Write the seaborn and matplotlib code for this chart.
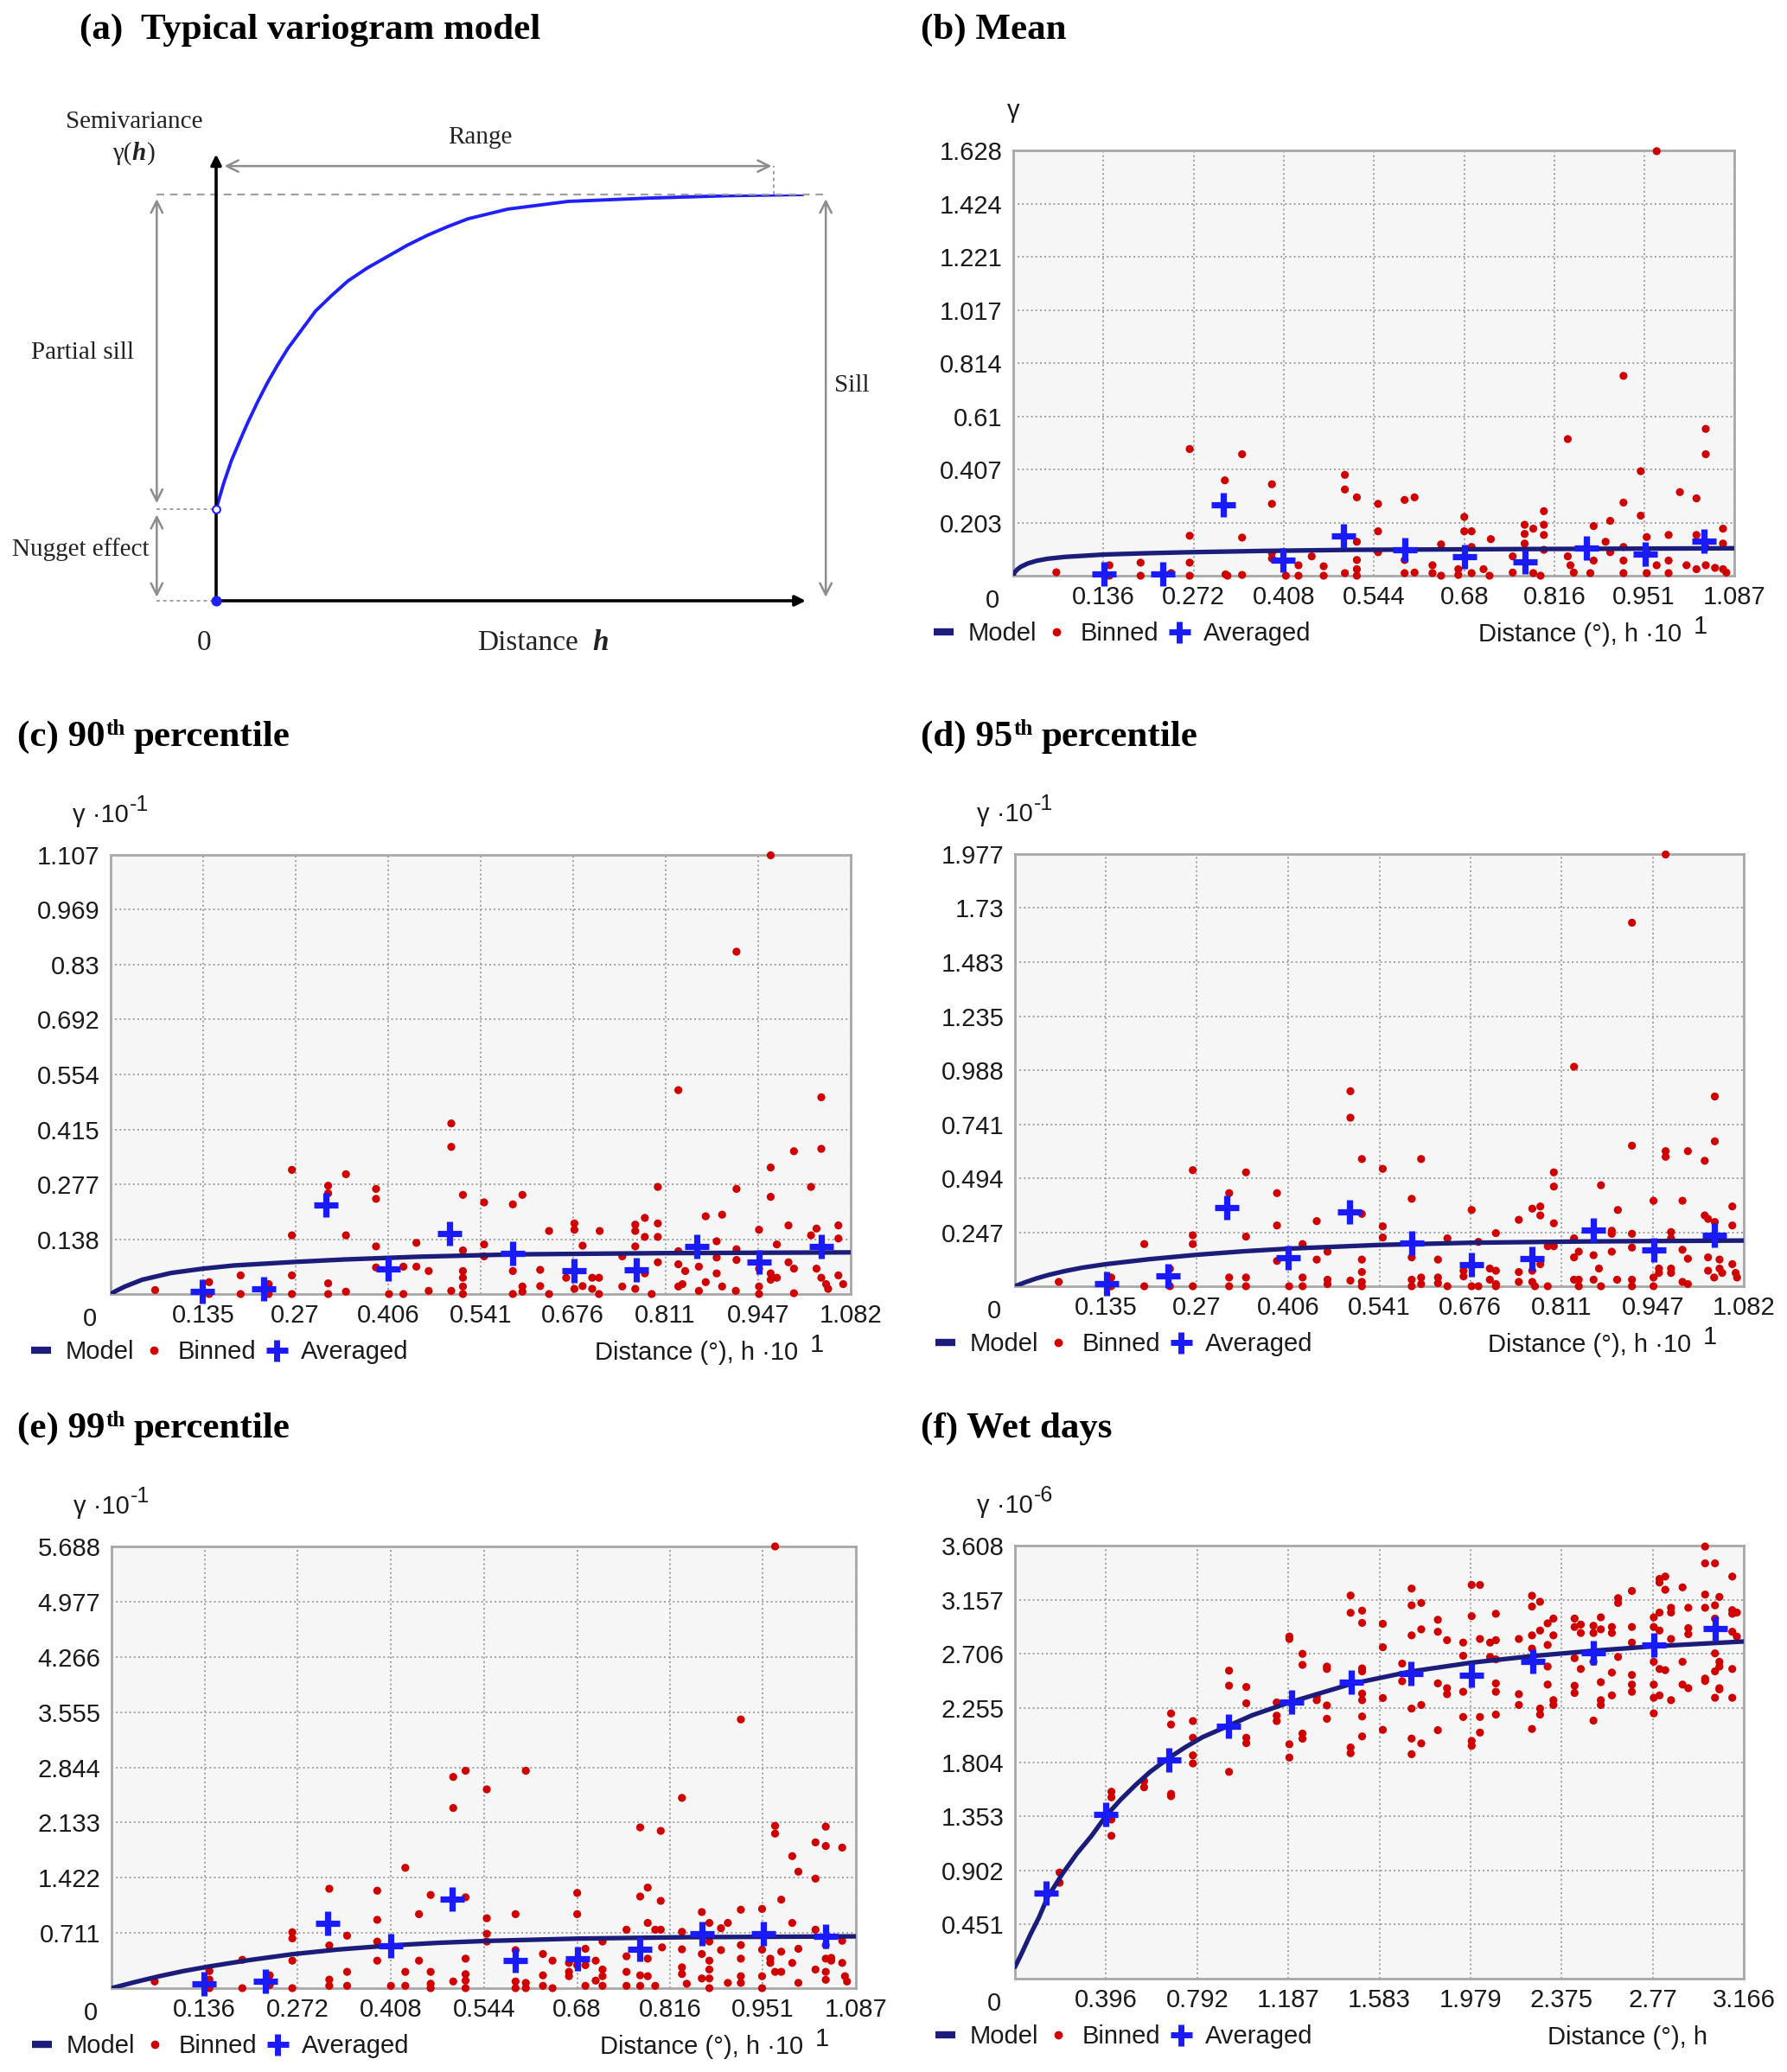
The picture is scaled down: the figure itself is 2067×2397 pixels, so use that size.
import numpy as np
import pandas as pd
import matplotlib
matplotlib.use("Agg")
import matplotlib.pyplot as plt
from matplotlib.lines import Line2D
import seaborn as sns

# ---------------- data ----------------
# (a) schematic: normalised distance h and semivariance (sill = 1)
schema_h = [0.0, 0.013, 0.026, 0.040, 0.053, 0.070, 0.087, 0.104, 0.122, 0.146, 0.169, 0.197, 0.224, 0.257,
            0.291, 0.325, 0.360, 0.394, 0.428, 0.496, 0.599, 0.734, 0.870, 1.0]
schema_gamma = [0.226, 0.290, 0.345, 0.393, 0.436, 0.488, 0.536, 0.579, 0.621, 0.668, 0.713, 0.752, 0.787, 0.819,
                0.847, 0.875, 0.900, 0.921, 0.940, 0.964, 0.983, 0.991, 0.997, 1.0]
nugget = 0.226

# (b) Mean
mean_xticks = ["0.136", "0.272", "0.408", "0.544", "0.68", "0.816", "0.951", "1.087"]
mean_yticks = ["0.203", "0.407", "0.61", "0.814", "1.017", "1.221", "1.424", "1.628"]
mean_binned = [
    (0.065, 0.013), (0.145, 0.040), (0.145, 0.000), (0.192, 0.050), (0.192, 0.000), (0.238, 0.010),
    (0.266, 0.485), (0.266, 0.153), (0.266, 0.050), (0.266, 0.000),
    (0.319, 0.365), (0.320, 0.005), (0.323, 0.000),
    (0.345, 0.465), (0.345, 0.146), (0.345, 0.003),
    (0.390, 0.350), (0.390, 0.275), (0.390, 0.087), (0.390, 0.066),
    (0.411, 0.000), (0.430, 0.040), (0.430, 0.000), (0.450, 0.074), (0.468, 0.036), (0.468, 0.000),
    (0.500, 0.386), (0.500, 0.330), (0.500, 0.010),
    (0.518, 0.300), (0.518, 0.130), (0.518, 0.060), (0.518, 0.025), (0.518, 0.000),
    (0.550, 0.275), (0.550, 0.170), (0.550, 0.090),
    (0.590, 0.290), (0.605, 0.300), (0.590, 0.060), (0.590, 0.010), (0.605, 0.012),
    (0.632, 0.040), (0.632, 0.010), (0.645, 0.000), (0.645, 0.120),
    (0.671, 0.025), (0.671, 0.003), (0.680, 0.225), (0.680, 0.170), (0.691, 0.170), (0.691, 0.110),
    (0.691, 0.010), (0.709, 0.025), (0.718, 0.000), (0.720, 0.140),
    (0.753, 0.074), (0.753, 0.012), (0.771, 0.195), (0.771, 0.160), (0.771, 0.123),
    (0.784, 0.180), (0.784, 0.010), (0.795, 0.000),
    (0.800, 0.247), (0.800, 0.195), (0.800, 0.156), (0.800, 0.099),
    (0.836, 0.523), (0.836, 0.074), (0.840, 0.040), (0.845, 0.012),
    (0.875, 0.190), (0.875, 0.058), (0.870, 0.010),
    (0.900, 0.210), (0.893, 0.130), (0.900, 0.090),
    (0.920, 0.765), (0.920, 0.280), (0.920, 0.110), (0.920, 0.058), (0.920, 0.010),
    (0.946, 0.400), (0.946, 0.230), (0.955, 0.148), (0.955, 0.099), (0.955, 0.010),
    (0.970, 1.625), (0.970, 0.040), (0.988, 0.156), (0.988, 0.058), (0.988, 0.010),
    (1.005, 0.320), (1.030, 0.296), (1.030, 0.156), (1.030, 0.025),
    (1.044, 0.562), (1.044, 0.465), (1.044, 0.107), (1.044, 0.040),
    (1.070, 0.180), (1.070, 0.123), (1.070, 0.025), (1.075, 0.012), (1.058, 0.030), (1.015, 0.040),
]
mean_averaged = [(0.137, 0.008), (0.225, 0.008), (0.317, 0.270), (0.407, 0.058), (0.498, 0.153),
                 (0.591, 0.099), (0.681, 0.074), (0.772, 0.054), (0.864, 0.107), (0.953, 0.082), (1.042, 0.131)]
mean_model = [(0.0, 0.0), (0.002, 0.012), (0.006, 0.024), (0.012, 0.035), (0.022, 0.047), (0.035, 0.057),
              (0.052, 0.065), (0.078, 0.072), (0.137, 0.081), (0.200, 0.086), (0.268, 0.090), (0.380, 0.095),
              (0.511, 0.099), (0.771, 0.102), (1.087, 0.105)]

# (c) 90th percentile
p90_xticks = ["0.135", "0.27", "0.406", "0.541", "0.676", "0.811", "0.947", "1.082"]
p90_yticks = ["0.138", "0.277", "0.415", "0.554", "0.692", "0.83", "0.969", "1.107"]
p90_binned = [
    (0.065, 0.010), (0.144, 0.030), (0.144, 0.000), (0.190, 0.047), (0.190, 0.000), (0.231, 0.025), (0.231, 0.000),
    (0.265, 0.313), (0.265, 0.148), (0.265, 0.047), (0.265, 0.000),
    (0.318, 0.273), (0.318, 0.254), (0.318, 0.027), (0.318, 0.000),
    (0.344, 0.302), (0.344, 0.148), (0.344, 0.006),
    (0.388, 0.265), (0.388, 0.240), (0.388, 0.120), (0.388, 0.067),
    (0.407, 0.000), (0.428, 0.069), (0.428, 0.000), (0.447, 0.129), (0.447, 0.069), (0.465, 0.058), (0.465, 0.008),
    (0.498, 0.430), (0.498, 0.371), (0.498, 0.008),
    (0.515, 0.250), (0.515, 0.110), (0.515, 0.058), (0.515, 0.041), (0.515, 0.019), (0.515, 0.000),
    (0.546, 0.231), (0.546, 0.125), (0.546, 0.095),
    (0.588, 0.226), (0.602, 0.250), (0.588, 0.058), (0.588, 0.000), (0.602, 0.019), (0.602, 0.006),
    (0.628, 0.061), (0.628, 0.020), (0.641, 0.000), (0.641, 0.159),
    (0.666, 0.041), (0.678, 0.178), (0.678, 0.162), (0.678, 0.013), (0.690, 0.122), (0.690, 0.020),
    (0.704, 0.041), (0.714, 0.041), (0.714, 0.000), (0.704, 0.013), (0.715, 0.159),
    (0.748, 0.095), (0.748, 0.019), (0.767, 0.175), (0.767, 0.159), (0.767, 0.120), (0.767, 0.013),
    (0.781, 0.192), (0.781, 0.144), (0.781, 0.052), (0.791, 0.000),
    (0.800, 0.270), (0.800, 0.178), (0.800, 0.144), (0.800, 0.080),
    (0.830, 0.514), (0.830, 0.108), (0.830, 0.075), (0.830, 0.019), (0.836, 0.025), (0.840, 0.058),
    (0.870, 0.196), (0.860, 0.069), (0.860, 0.008), (0.870, 0.030),
    (0.886, 0.133), (0.886, 0.092), (0.886, 0.052), (0.894, 0.200), (0.894, 0.019), (0.914, 0.008),
    (0.915, 0.863), (0.915, 0.265), (0.915, 0.113), (0.915, 0.086),
    (0.948, 0.162), (0.948, 0.064), (0.948, 0.019), (0.948, 0.000),
    (0.965, 1.106), (0.965, 0.319), (0.965, 0.245), (0.965, 0.052), (0.965, 0.036),
    (0.974, 0.125), (0.974, 0.041), (0.991, 0.173), (0.991, 0.080), (0.999, 0.064), (0.999, 0.002),
    (0.999, 0.360), (1.024, 0.270), (1.024, 0.148), (1.032, 0.165), (1.032, 0.064),
    (1.039, 0.496), (1.039, 0.366), (1.039, 0.041), (1.046, 0.025), (1.049, 0.013),
    (1.064, 0.173), (1.064, 0.140), (1.064, 0.047), (1.071, 0.025),
]
p90_averaged = [(0.134, 0.006), (0.224, 0.013), (0.315, 0.224), (0.406, 0.064), (0.496, 0.153), (0.588, 0.103),
                (0.678, 0.058), (0.769, 0.061), (0.857, 0.120), (0.948, 0.080), (1.039, 0.120)]
p90_model = [(0.0, 0.0), (0.008, 0.008), (0.021, 0.019), (0.046, 0.036), (0.088, 0.053), (0.135, 0.064),
             (0.180, 0.072), (0.270, 0.081), (0.340, 0.087), (0.450, 0.094), (0.592, 0.100), (0.800, 0.103),
             (1.082, 0.105)]

# (d) 95th percentile
p95_xticks = ["0.135", "0.27", "0.406", "0.541", "0.676", "0.811", "0.947", "1.082"]
p95_yticks = ["0.247", "0.494", "0.741", "0.988", "1.235", "1.483", "1.73", "1.977"]
p95_binned = [
    (0.065, 0.020), (0.143, 0.040), (0.143, 0.000), (0.192, 0.193), (0.192, 0.000), (0.230, 0.000), (0.230, 0.080),
    (0.264, 0.531), (0.264, 0.233), (0.264, 0.193), (0.264, 0.000),
    (0.318, 0.426), (0.318, 0.040), (0.318, 0.000),
    (0.343, 0.521), (0.343, 0.227), (0.343, 0.040), (0.343, 0.000),
    (0.389, 0.426), (0.389, 0.278), (0.389, 0.116),
    (0.407, 0.000), (0.427, 0.040), (0.427, 0.000), (0.427, 0.193),
    (0.448, 0.298), (0.448, 0.122), (0.464, 0.158), (0.464, 0.030), (0.464, 0.010),
    (0.498, 0.892), (0.498, 0.771), (0.498, 0.026),
    (0.515, 0.582), (0.515, 0.331), (0.515, 0.122), (0.515, 0.065), (0.515, 0.020), (0.515, 0.000),
    (0.546, 0.537), (0.546, 0.274), (0.546, 0.223),
    (0.589, 0.400), (0.589, 0.132), (0.589, 0.030), (0.589, 0.000), (0.603, 0.040), (0.603, 0.010),
    (0.603, 0.582), (0.628, 0.122), (0.628, 0.040), (0.628, 0.014), (0.642, 0.219), (0.642, 0.000),
    (0.666, 0.071), (0.666, 0.045), (0.678, 0.349), (0.678, 0.091), (0.678, 0.000), (0.688, 0.203), (0.688, 0.000),
    (0.705, 0.081), (0.705, 0.030), (0.714, 0.071), (0.714, 0.010), (0.714, 0.000), (0.714, 0.243),
    (0.748, 0.304), (0.748, 0.065), (0.748, 0.020),
    (0.768, 0.355), (0.768, 0.071), (0.768, 0.020), (0.772, 0.000),
    (0.780, 0.365), (0.780, 0.324), (0.780, 0.101), (0.791, 0.183), (0.791, 0.000),
    (0.800, 0.521), (0.800, 0.456), (0.800, 0.288), (0.800, 0.183),
    (0.830, 1.004), (0.830, 0.219), (0.830, 0.132), (0.830, 0.030), (0.837, 0.030), (0.837, 0.158), (0.837, 0.000),
    (0.870, 0.462), (0.859, 0.142), (0.859, 0.030), (0.867, 0.081), (0.870, 0.000),
    (0.886, 0.254), (0.886, 0.240), (0.886, 0.158), (0.894, 0.030),
    (0.895, 0.349), (0.916, 1.663), (0.916, 0.643), (0.916, 0.240), (0.916, 0.177), (0.916, 0.030), (0.916, 0.000),
    (0.948, 0.391), (0.948, 0.040), (0.948, 0.000), (0.956, 0.081), (0.956, 0.061),
    (0.966, 1.975), (0.966, 0.618), (0.966, 0.592),
    (0.974, 0.248), (0.974, 0.219), (0.974, 0.081), (0.974, 0.061),
    (0.991, 0.391), (0.991, 0.167), (0.999, 0.126), (0.991, 0.020), (0.999, 0.010),
    (0.999, 0.618), (1.024, 0.574), (1.024, 0.324), (1.029, 0.308), (1.029, 0.132), (1.029, 0.071), (1.038, 0.040),
    (1.039, 0.868), (1.039, 0.663), (1.039, 0.294), (1.046, 0.081), (1.046, 0.122), (1.050, 0.061),
    (1.065, 0.365), (1.065, 0.278), (1.065, 0.101), (1.070, 0.061), (1.072, 0.040),
]
p95_averaged = [(0.136, 0.010), (0.227, 0.047), (0.315, 0.359), (0.406, 0.132), (0.497, 0.341), (0.589, 0.199),
                (0.678, 0.097), (0.768, 0.126), (0.859, 0.258), (0.948, 0.166), (1.039, 0.233)]
p95_model = [(0.0, 0.0), (0.015, 0.018), (0.032, 0.036), (0.050, 0.052), (0.075, 0.070), (0.100, 0.085),
             (0.135, 0.101), (0.200, 0.124), (0.270, 0.144), (0.340, 0.160), (0.406, 0.172), (0.541, 0.189),
             (0.676, 0.199), (0.850, 0.205), (1.082, 0.209)]

# (e) 99th percentile
p99_xticks = ["0.136", "0.272", "0.408", "0.544", "0.68", "0.816", "0.951", "1.087"]
p99_yticks = ["0.711", "1.422", "2.133", "2.844", "3.555", "4.266", "4.977", "5.688"]
p99_binned = [
    (0.063, 0.086), (0.143, 0.220), (0.143, 0.110), (0.143, 0.000), (0.191, 0.365), (0.191, 0.000), (0.231, 0.165), (0.231, 0.040),
    (0.264, 0.720), (0.264, 0.640), (0.264, 0.354), (0.264, 0.000),
    (0.318, 1.280), (0.318, 0.550), (0.318, 0.110), (0.318, 0.030),
    (0.344, 0.676), (0.344, 0.210), (0.344, 0.030),
    (0.388, 1.255), (0.388, 0.880), (0.388, 0.600), (0.388, 0.354),
    (0.408, 0.030), (0.429, 0.210), (0.429, 0.030), (0.429, 1.550),
    (0.449, 0.953), (0.449, 0.354), (0.466, 1.200), (0.466, 0.210), (0.466, 0.057), (0.466, 0.000),
    (0.499, 2.720), (0.499, 2.320), (0.499, 0.086),
    (0.517, 2.800), (0.517, 1.170), (0.517, 0.380), (0.517, 0.180), (0.517, 0.097), (0.517, 0.000),
    (0.548, 2.560), (0.548, 0.900), (0.548, 0.700), (0.548, 0.600),
    (0.590, 0.953), (0.590, 0.490), (0.590, 0.086), (0.590, 0.000), (0.605, 0.068), (0.605, 0.000),
    (0.605, 2.800), (0.630, 0.440), (0.630, 0.165), (0.630, 0.030), (0.644, 0.354), (0.644, 0.000),
    (0.668, 0.325), (0.668, 0.210), (0.668, 0.154),
    (0.680, 1.226), (0.680, 0.953), (0.680, 0.296),
    (0.692, 0.507), (0.692, 0.296), (0.692, 0.030), (0.707, 0.354), (0.707, 0.097),
    (0.717, 0.600), (0.717, 0.240), (0.717, 0.154), (0.717, 0.030),
    (0.752, 0.753), (0.752, 0.410), (0.752, 0.210), (0.752, 0.030),
    (0.772, 2.070), (0.772, 1.180), (0.772, 0.165), (0.772, 0.030),
    (0.783, 1.295), (0.783, 0.840), (0.783, 0.380), (0.783, 0.154), (0.794, 0.753), (0.794, 0.030),
    (0.802, 2.025), (0.802, 1.124), (0.802, 0.753), (0.804, 0.525),
    (0.833, 2.450), (0.833, 0.725), (0.833, 0.500), (0.833, 0.268), (0.833, 0.182), (0.840, 0.057),
    (0.862, 0.980), (0.862, 0.440), (0.862, 0.125), (0.873, 0.840), (0.873, 0.600), (0.873, 0.354),
    (0.873, 0.240), (0.873, 0.125), (0.873, 0.000),
    (0.890, 0.772), (0.890, 0.490), (0.900, 0.840), (0.900, 0.068),
    (0.919, 3.460), (0.919, 1.010), (0.919, 0.555), (0.919, 0.380), (0.919, 0.154), (0.919, 0.068),
    (0.950, 1.020), (0.950, 0.496), (0.950, 0.154), (0.950, 0.000),
    (0.962, 0.325), (0.962, 0.380), (0.969, 0.210),
    (0.969, 5.688), (0.969, 2.090), (0.969, 1.990),
    (0.978, 1.140), (0.978, 0.470), (0.978, 0.210),
    (0.994, 1.700), (0.994, 0.840), (0.994, 0.325), (1.003, 0.068), (1.003, 1.500), (1.003, 0.507),
    (1.028, 1.877), (1.028, 1.410), (1.028, 0.753), (1.028, 0.240),
    (1.043, 2.080), (1.043, 1.830), (1.043, 0.555), (1.043, 0.380), (1.043, 0.210), (1.043, 0.108),
    (1.051, 0.390), (1.051, 0.354),
    (1.067, 1.810), (1.067, 0.610), (1.067, 0.325), (1.071, 0.154), (1.074, 0.086),
]
p99_averaged = [(0.135, 0.057), (0.225, 0.086), (0.316, 0.840), (0.408, 0.540), (0.498, 1.150), (0.590, 0.354),
                (0.680, 0.380), (0.772, 0.500), (0.862, 0.700), (0.952, 0.700), (1.043, 0.670)]
p99_model = [(0.0, 0.0), (0.035, 0.080), (0.070, 0.154), (0.105, 0.220), (0.143, 0.280), (0.200, 0.360),
             (0.264, 0.437), (0.330, 0.497), (0.408, 0.550), (0.480, 0.585), (0.548, 0.608), (0.680, 0.638),
             (0.840, 0.656), (1.087, 0.667)]

# (f) Wet days
wet_xticks = ["0.396", "0.792", "1.187", "1.583", "1.979", "2.375", "2.77", "3.166"]
wet_yticks = ["0.451", "0.902", "1.353", "1.804", "2.255", "2.706", "3.157", "3.608"]
wet_binned = [
    (0.194, 0.884), (0.194, 0.799),
    (0.419, 1.557), (0.419, 1.510), (0.419, 1.326), (0.419, 1.190),
    (0.561, 1.646), (0.561, 1.594),
    (0.678, 2.209), (0.678, 2.117), (0.678, 1.540), (0.678, 1.520),
    (0.773, 2.146), (0.773, 2.007), (0.773, 1.860), (0.773, 1.793),
    (0.930, 2.566), (0.930, 2.441), (0.930, 1.723),
    (1.005, 2.430), (1.005, 2.294), (1.005, 2.007), (1.005, 1.962),
    (1.137, 2.301), (1.137, 2.191), (1.137, 2.146),
    (1.192, 2.830), (1.192, 2.850), (1.192, 1.953), (1.192, 1.842),
    (1.249, 2.706), (1.249, 2.614), (1.249, 2.042), (1.249, 1.999),
    (1.311, 2.350), (1.311, 2.320),
    (1.355, 2.600), (1.355, 2.580), (1.355, 2.276), (1.355, 2.165),
    (1.458, 3.192), (1.458, 3.048), (1.458, 1.926), (1.458, 1.878),
    (1.508, 3.066), (1.508, 2.964), (1.508, 2.585), (1.508, 2.560), (1.508, 2.375), (1.508, 2.320),
    (1.508, 2.184), (1.508, 2.018),
    (1.598, 2.956), (1.598, 2.761), (1.598, 2.338), (1.598, 2.073),
    (1.682, 2.625), (1.682, 2.478),
    (1.723, 3.250), (1.723, 3.110), (1.723, 2.860), (1.723, 2.250), (1.723, 2.000), (1.723, 1.870),
    (1.765, 3.130), (1.765, 2.910), (1.765, 2.280), (1.765, 1.960),
    (1.837, 2.990), (1.837, 2.890), (1.837, 2.460), (1.837, 2.070),
    (1.877, 2.820), (1.877, 2.420), (1.877, 2.370),
    (1.947, 2.800), (1.947, 2.690), (1.947, 2.390), (1.947, 2.180),
    (1.984, 3.280), (1.984, 3.020), (1.984, 1.980), (1.984, 1.940),
    (2.020, 3.280), (2.020, 2.830), (2.020, 2.180), (2.020, 2.050),
    (2.064, 2.800), (2.064, 2.680),
    (2.089, 3.040), (2.089, 2.820), (2.089, 2.660), (2.089, 2.460), (2.089, 2.390), (2.089, 2.200),
    (2.189, 2.830), (2.189, 2.370), (2.189, 2.280),
    (2.246, 3.190), (2.246, 3.100), (2.246, 2.860), (2.246, 2.750), (2.246, 2.080),
    (2.281, 3.140), (2.281, 2.900), (2.281, 2.250), (2.281, 2.200),
    (2.314, 2.960), (2.314, 2.780), (2.314, 2.600), (2.314, 2.450),
    (2.339, 3.000), (2.339, 2.860), (2.339, 2.320), (2.339, 2.280),
    (2.431, 3.000), (2.431, 2.930), (2.431, 2.670), (2.431, 2.440), (2.431, 2.380),
    (2.458, 2.950), (2.458, 2.880), (2.458, 2.580),
    (2.513, 2.940), (2.513, 2.880), (2.513, 2.640), (2.513, 2.150),
    (2.545, 3.010), (2.545, 2.910), (2.545, 2.470), (2.545, 2.320), (2.545, 2.280),
    (2.593, 2.930), (2.593, 2.880), (2.593, 2.550), (2.593, 2.360),
    (2.620, 3.170), (2.620, 3.130), (2.620, 2.680),
    (2.680, 3.230), (2.680, 2.930), (2.680, 2.800), (2.680, 2.530), (2.680, 2.450), (2.680, 2.390),
    (2.775, 3.010), (2.775, 2.930), (2.775, 2.640), (2.775, 2.450), (2.775, 2.340), (2.775, 2.210),
    (2.800, 3.330), (2.800, 3.300), (2.800, 3.050), (2.800, 2.900), (2.800, 2.580), (2.800, 2.360),
    (2.825, 3.350), (2.825, 3.240), (2.825, 2.570),
    (2.850, 3.090), (2.850, 3.050), (2.850, 2.830), (2.850, 2.320),
    (2.900, 3.260), (2.900, 2.640), (2.900, 2.450),
    (2.925, 3.090), (2.925, 2.920), (2.925, 2.870), (2.925, 2.420),
    (2.998, 3.600), (2.998, 3.460), (2.998, 3.200), (2.998, 3.090), (2.998, 2.500), (2.998, 2.480),
    (3.041, 3.460), (3.041, 3.110), (3.041, 3.000), (3.041, 2.710), (3.041, 2.560), (3.041, 2.340),
    (3.060, 3.180), (3.060, 2.640), (3.060, 2.600), (3.060, 2.420), (3.060, 2.410),
    (3.116, 3.350), (3.116, 3.070), (3.116, 3.040), (3.116, 2.890), (3.116, 2.580), (3.116, 2.340),
    (3.136, 3.050), (3.136, 2.850),
]
wet_averaged = [(0.136, 0.715), (0.396, 1.365), (0.667, 1.820), (0.929, 2.105), (1.200, 2.303), (1.462, 2.467),
                (1.720, 2.540), (1.984, 2.530), (2.251, 2.640), (2.513, 2.714), (2.775, 2.780), (3.041, 2.916)]
wet_model = [(0.0, 0.097), (0.028, 0.206), (0.066, 0.364), (0.104, 0.509), (0.142, 0.679), (0.206, 0.873),
             (0.269, 1.042), (0.332, 1.188), (0.396, 1.357), (0.459, 1.491), (0.523, 1.612), (0.586, 1.721),
             (0.662, 1.830), (0.739, 1.927), (0.815, 2.012), (0.916, 2.097), (1.030, 2.194), (1.195, 2.303),
             (1.322, 2.376), (1.462, 2.456), (1.720, 2.559), (1.984, 2.633), (2.251, 2.688), (2.513, 2.732),
             (2.775, 2.769), (3.166, 2.809)]

# ---------------- style ----------------
W, H = 2067, 2397
RED = "#d00000"
BLUE = "#1a1aff"
NAVY = "#1c1c7a"
TXT = "#1a1a1a"

sns.set_style("whitegrid", {"axes.facecolor": "#f6f6f6", "grid.color": "#a5a5a5",
                            "grid.linestyle": ":", "axes.edgecolor": "#a0a0a0"})
SANS = ["Liberation Sans", "DejaVu Sans"]
SERIF = ["Liberation Serif", "DejaVu Serif"]
plt.rcParams["font.family"] = SANS

fig = plt.figure(figsize=(W / 100, H / 100), dpi=100)
fig.patch.set_facecolor("white")
renderer = fig.canvas.get_renderer()


def rich_text(x, y, pieces, ha="left"):
    """pieces: (text, props, rise_px, gap_px); x, y in pixels from top-left, y = baseline"""
    items = []
    cur = x
    for s, props, rise, gap in pieces:
        cur += gap
        t = fig.text(cur / W, 1 - (y - rise) / H, s, va="baseline", ha="left", **props)
        cur += t.get_window_extent(renderer).width
        items.append(t)
    if ha != "left":
        shift = (cur - x) * (0.5 if ha == "center" else 1.0)
        for t in items:
            px0, py0 = t.get_position()
            t.set_position((px0 - shift / W, py0))
    return items


TITLE = dict(family=SERIF, fontsize=31, fontweight="bold", color="black")
TSUP = dict(family=SERIF, fontsize=18, fontweight="bold", color="black")
LAB = dict(family=SANS, fontsize=21, color=TXT)
LSUP = dict(family=SANS, fontsize=18, color=TXT)


def variogram_panel(box, binned, averaged, model, xticks, yticks, exp, dist_label):
    left, right, top, bottom = box
    aw, ah = right - left, bottom - top
    ax = fig.add_axes([left / W, 1 - bottom / H, aw / W, ah / H])
    bdf = pd.DataFrame(binned, columns=["h", "gamma"])
    adf = pd.DataFrame(averaged, columns=["h", "gamma"])
    mdf = pd.DataFrame(model, columns=["h", "gamma"])
    sns.scatterplot(data=bdf, x="h", y="gamma", color=RED, s=44, edgecolor="none",
                    ax=ax, zorder=3, clip_on=False, legend=False)
    sns.lineplot(data=mdf, x="h", y="gamma", color=NAVY, lw=3.8, ax=ax, zorder=4)
    sns.scatterplot(data=adf, x="h", y="gamma", marker="+", s=420, linewidth=5.2, color=BLUE,
                    ax=ax, zorder=5, clip_on=False, legend=False)
    xt = [float(v) for v in xticks]
    yt = [float(v) for v in yticks]
    ax.set_xlim(0, xt[-1])
    ax.set_ylim(0, yt[-1])
    ax.set_xticks(xt, xticks)
    ax.set_yticks(yt, yticks)
    ax.set_xlabel("")
    ax.set_ylabel("")
    ax.tick_params(length=0, labelsize=21, labelcolor=TXT)
    ax.tick_params(axis="x", pad=8)
    ax.tick_params(axis="y", pad=9)
    ax.grid(True, ls=":", color="#a0a0a0", lw=1.4)
    for sp in ax.spines.values():
        sp.set_color("#a8a8a8")
        sp.set_linewidth(2)
    # origin label
    fig.text((left - 24) / W, 1 - (bottom + 37) / H, "0", ha="center", va="baseline", **LAB)
    # y label above the axis
    if exp:
        rich_text(left, top - 38, [("γ ·10", LAB, 0, 0), (exp, LSUP, 13, 1)], ha="center")
    else:
        rich_text(left, top - 38, [("γ", LAB, 0, 0)], ha="center")
    # distance label
    if dist_label[1]:
        rich_text(right - 296, bottom + 76, [(dist_label[0], LAB, 0, 0), (dist_label[1], LAB, 9, 14)])
    else:
        rich_text(right - 227, bottom + 76, [(dist_label[0], LAB, 0, 0)])
    handles = [Line2D([], [], color=NAVY, lw=6, solid_capstyle="butt"),
               Line2D([], [], color=RED, marker="o", ms=6, ls="none"),
               Line2D([], [], color=BLUE, marker="+", ms=18, mew=5, ls="none")]
    leg = ax.legend(handles, ["Model", "Binned", "Averaged"], loc="center left",
                    bbox_to_anchor=(-92 / aw, -67 / ah), ncol=3, frameon=False, fontsize=21,
                    handlelength=0.8, handletextpad=0.55, columnspacing=0.4,
                    borderpad=0, borderaxespad=0)
    for t in leg.get_texts():
        t.set_color(TXT)
    return ax


# ---------------- panel titles ----------------
rich_text(92, 45, [("(a)  Typical variogram model", TITLE, 0, 0)])
rich_text(1065, 45, [("(b) Mean", TITLE, 0, 0)])
rich_text(20, 863, [("(c) 90", TITLE, 0, 0), ("th", TSUP, 13, 1), ("percentile", TITLE, 0, 10)])
rich_text(1065, 863, [("(d) 95", TITLE, 0, 0), ("th", TSUP, 13, 1), ("percentile", TITLE, 0, 10)])
rich_text(20, 1663, [("(e) 99", TITLE, 0, 0), ("th", TSUP, 13, 1), ("percentile", TITLE, 0, 10)])
rich_text(1065, 1663, [("(f) Wet days", TITLE, 0, 0)])

# ---------------- (a) schematic ----------------
ax_a = fig.add_axes([250 / W, 1 - 695 / H, (930 - 250) / W, (695 - 225) / H])
ax_a.set_xlim(0, 1)
ax_a.set_ylim(0, 1)
ax_a.axis("off")
GRAY = "#8c8c8c"
sns.lineplot(x=schema_h, y=schema_gamma, color="#1f1fff", lw=2.8, ax=ax_a, sort=False)
arr = dict(annotation_clip=False)
ax_a.annotate("", xy=(0, 1.105), xytext=(0, 0),
              arrowprops=dict(arrowstyle="-|>", color="black", lw=2.6, mutation_scale=18), **arr)
ax_a.annotate("", xy=(1.007, 0), xytext=(0, 0),
              arrowprops=dict(arrowstyle="-|>", color="black", lw=2.6, mutation_scale=18), **arr)
ax_a.plot([-0.101, 1.04], [1.0, 1.0], ls=(0, (4, 3)), color="#a0a0a0", lw=1.6, clip_on=False)
ax_a.plot([-0.101, 0], [nugget, nugget], ls=(0, (2, 2)), color="#a0a0a0", lw=1.4, clip_on=False)
ax_a.plot([-0.101, 0], [0, 0], ls=(0, (2, 2)), color="#a0a0a0", lw=1.4, clip_on=False)
ax_a.plot([0.949, 0.949], [1.0, 1.07], ls=(0, (2, 2)), color="#a0a0a0", lw=1.4, clip_on=False)
dbl = dict(arrowstyle="<->", color=GRAY, lw=1.8, mutation_scale=24)
ax_a.annotate("", xy=(0.01, 1.07), xytext=(0.949, 1.07), arrowprops=dbl, **arr)
ax_a.annotate("", xy=(-0.101, 0.995), xytext=(-0.101, nugget + 0.008), arrowprops=dbl, **arr)
ax_a.annotate("", xy=(-0.101, nugget - 0.008), xytext=(-0.101, 0.003), arrowprops=dbl, **arr)
ax_a.annotate("", xy=(1.037, 0.995), xytext=(1.037, 0.003), arrowprops=dbl, **arr)
ax_a.scatter([0], [nugget], s=40, facecolor="white", edgecolor="#1f1fff", lw=1.5, zorder=5, clip_on=False)
ax_a.scatter([0], [0], s=60, color="#1f1fff", zorder=5, clip_on=False)

SLAB = dict(family=SERIF, fontsize=21, color="#222222")
SLAB_BI = dict(family=SERIF, fontsize=21, color="#222222", fontweight="bold", fontstyle="italic")
rich_text(155, 148, [("Semivariance", SLAB, 0, 0)], ha="center")
rich_text(155, 185, [("γ(", SLAB, 0, 0), ("h", SLAB_BI, 0, 0), (")", SLAB, 0, 1)], ha="center")
rich_text(555, 166, [("Range", SLAB, 0, 0)], ha="center")
rich_text(95, 415, [("Partial sill", SLAB, 0, 0)], ha="center")
rich_text(93, 643, [("Nugget effect", SLAB, 0, 0)], ha="center")
rich_text(985, 453, [("Sill", SLAB, 0, 0)], ha="center")
BIG = dict(family=SERIF, fontsize=24, color="#222222")
rich_text(236, 752, [("0", BIG, 0, 0)], ha="center")
rich_text(628, 752, [("Distance", BIG, 0, 0),
                     ("h", dict(BIG, fontweight="bold", fontstyle="italic"), 0, 16)], ha="center")

# ---------------- variogram panels ----------------
dist10 = ("Distance (°), h ·10", "1")
variogram_panel((1172, 2006, 174, 666), mean_binned, mean_averaged, mean_model,
                mean_xticks, mean_yticks, None, dist10)
variogram_panel((128, 984, 989, 1497), p90_binned, p90_averaged, p90_model,
                p90_xticks, p90_yticks, "-1", dist10)
variogram_panel((1174, 2017, 988, 1488), p95_binned, p95_averaged, p95_model,
                p95_xticks, p95_yticks, "-1", dist10)
variogram_panel((129, 990, 1789, 2300), p99_binned, p99_averaged, p99_model,
                p99_xticks, p99_yticks, "-1", dist10)
variogram_panel((1174, 2017, 1788, 2289), wet_binned, wet_averaged, wet_model,
                wet_xticks, wet_yticks, "-6", ("Distance (°), h", None))

fig.savefig("out.png", dpi=100, facecolor="white")
